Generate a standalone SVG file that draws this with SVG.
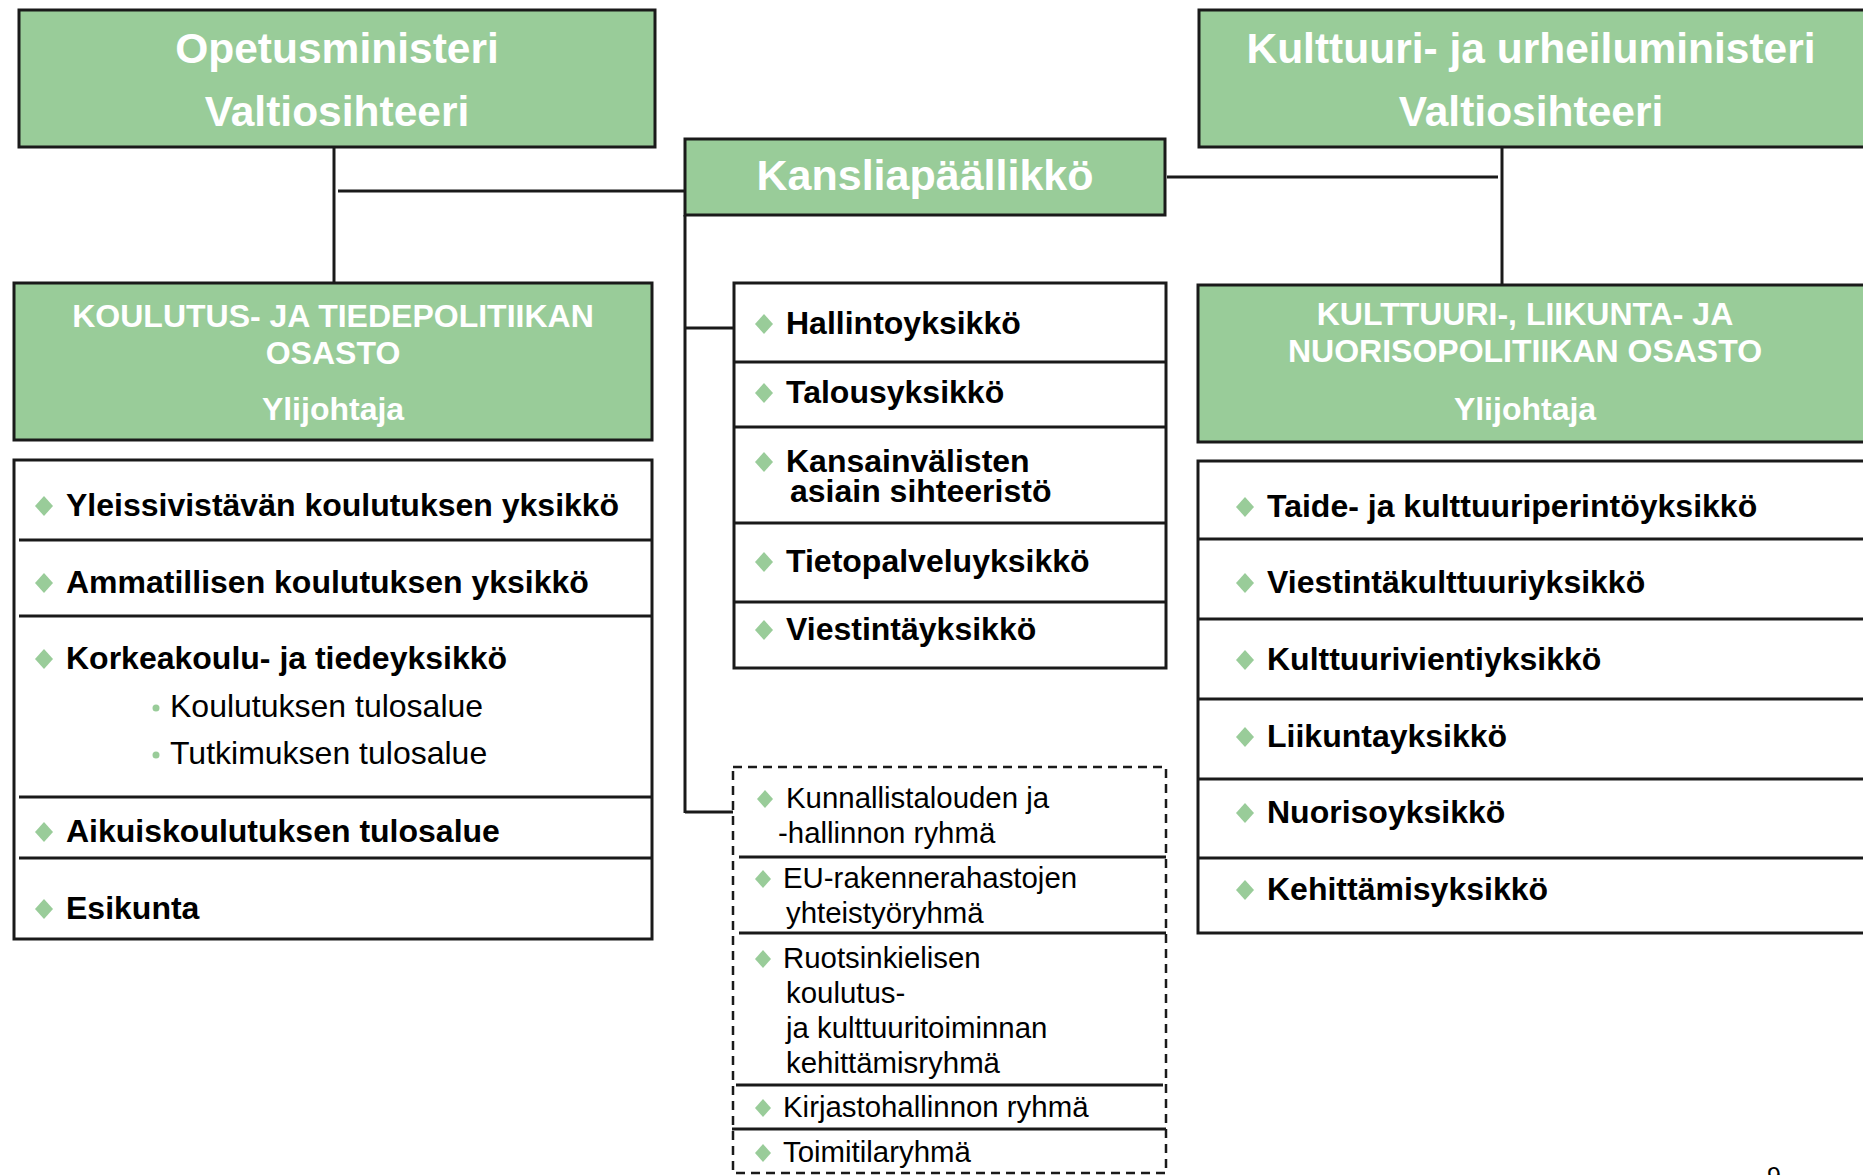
<svg xmlns="http://www.w3.org/2000/svg" xmlns:xlink="http://www.w3.org/1999/xlink" width="1863" height="1175" viewBox="0 0 1863 1175">
<style>
  text { font-family: "Liberation Sans", Arial, sans-serif; }
  .gbox { fill: #99CC99; stroke: #1a1a1a; stroke-width: 3; }
  .wbox { fill: #ffffff; stroke: #1a1a1a; stroke-width: 3; }
  .dbox { fill: none; stroke: #1a1a1a; stroke-width: 2.5; stroke-dasharray: 9 6; }
  .div { stroke: #1a1a1a; stroke-width: 3; fill: none; }
  .conn { stroke: #1a1a1a; stroke-width: 3; fill: none; }
  .top { fill: #ffffff; font-weight: bold; font-size: 42.5px; text-anchor: middle; }
  .kans { fill: #ffffff; font-weight: bold; font-size: 43px; text-anchor: middle; }
  .head { fill: #ffffff; font-weight: bold; font-size: 32px; text-anchor: middle; }
  .item { fill: #000000; font-weight: bold; font-size: 32px; }
  .sub { fill: #000000; font-size: 32px; }
  .grp { fill: #000000; font-size: 29.4px; }
  .bul { fill: #99CC99; }
</style>
<defs>
  <path id="dia" d="M0,-10 L9,0 L0,10 L-9,0 Z" fill="#99CC99"/>
  <path id="dias" d="M0,-9 L8,0 L0,9 L-8,0 Z" fill="#99CC99"/>
</defs>

<g id="connectors">
  <line class="conn" x1="334" y1="147" x2="334" y2="283"/>
  <line class="conn" x1="338" y1="191" x2="685" y2="191"/>
  <line class="conn" x1="1167" y1="177" x2="1498" y2="177"/>
  <line class="conn" x1="1502" y1="147" x2="1502" y2="285"/>
  <line class="conn" x1="685" y1="215" x2="685" y2="813"/>
  <line class="conn" x1="685" y1="328" x2="734" y2="328"/>
  <line class="conn" x1="685" y1="812" x2="733" y2="812"/>
</g>

<g id="opetusministeri">
  <rect class="gbox" x="19" y="10" width="636" height="137"/>
  <text class="top" x="337" y="63">Opetusministeri</text>
  <text class="top" x="337" y="126">Valtiosihteeri</text>
</g>

<g id="kulttuuriministeri">
  <rect class="gbox" x="1199" y="10" width="680" height="137"/>
  <text class="top" x="1531" y="63">Kulttuuri- ja urheiluministeri</text>
  <text class="top" x="1531" y="126">Valtiosihteeri</text>
</g>

<g id="kansliapaallikko">
  <rect class="gbox" x="685" y="139" width="480" height="76"/>
  <text class="kans" x="925" y="190">Kansliapäällikkö</text>
</g>

<g id="koulutusosasto">
  <rect class="gbox" x="14" y="283" width="638" height="157"/>
  <text class="head" x="333" y="327">KOULUTUS- JA TIEDEPOLITIIKAN</text>
  <text class="head" x="333" y="364">OSASTO</text>
  <text class="head" x="333" y="420">Ylijohtaja</text>
</g>

<g id="kulttuuriosasto">
  <rect class="gbox" x="1198" y="285" width="680" height="157"/>
  <text class="head" x="1525" y="325">KULTTUURI-, LIIKUNTA- JA</text>
  <text class="head" x="1525" y="362">NUORISOPOLITIIKAN OSASTO</text>
  <text class="head" x="1525" y="420">Ylijohtaja</text>
</g>

<g id="koulutusyksikot">
  <rect class="wbox" x="14" y="460" width="638" height="479"/>
  <line class="div" x1="19" y1="540" x2="652" y2="540"/>
  <line class="div" x1="19" y1="616" x2="652" y2="616"/>
  <line class="div" x1="19" y1="797" x2="652" y2="797"/>
  <line class="div" x1="19" y1="858" x2="652" y2="858"/>
  <use xlink:href="#dia" x="44" y="506"/>
  <text class="item" x="66" y="516">Yleissivistävän koulutuksen yksikkö</text>
  <use xlink:href="#dia" x="44" y="583"/>
  <text class="item" x="66" y="593">Ammatillisen koulutuksen yksikkö</text>
  <use xlink:href="#dia" x="44" y="659"/>
  <text class="item" x="66" y="669">Korkeakoulu- ja tiedeyksikkö</text>
  <circle class="bul" cx="156" cy="708" r="3.5"/>
  <text class="sub" x="170" y="717">Koulutuksen tulosalue</text>
  <circle class="bul" cx="156" cy="755" r="3.5"/>
  <text class="sub" x="170" y="764">Tutkimuksen tulosalue</text>
  <use xlink:href="#dia" x="44" y="832"/>
  <text class="item" x="66" y="842">Aikuiskoulutuksen tulosalue</text>
  <use xlink:href="#dia" x="44" y="909"/>
  <text class="item" x="66" y="919">Esikunta</text>
</g>

<g id="kansliayksikot">
  <rect class="wbox" x="734" y="283" width="432" height="385"/>
  <line class="div" x1="734" y1="362" x2="1166" y2="362"/>
  <line class="div" x1="734" y1="427" x2="1166" y2="427"/>
  <line class="div" x1="734" y1="523" x2="1166" y2="523"/>
  <line class="div" x1="734" y1="602" x2="1166" y2="602"/>
  <use xlink:href="#dia" x="764" y="324"/>
  <text class="item" x="786" y="334">Hallintoyksikkö</text>
  <use xlink:href="#dia" x="764" y="393"/>
  <text class="item" x="786" y="403">Talousyksikkö</text>
  <use xlink:href="#dia" x="764" y="462"/>
  <text class="item" x="786" y="472">Kansainvälisten</text>
  <text class="item" x="790" y="502">asiain sihteeristö</text>
  <use xlink:href="#dia" x="764" y="562"/>
  <text class="item" x="786" y="572">Tietopalveluyksikkö</text>
  <use xlink:href="#dia" x="764" y="630"/>
  <text class="item" x="786" y="640">Viestintäyksikkö</text>
</g>

<g id="ryhmat">
  <rect class="dbox" x="733" y="767" width="433" height="406"/>
  <line class="div" x1="739" y1="857" x2="1166" y2="857"/>
  <line class="div" x1="739" y1="933" x2="1166" y2="933"/>
  <line class="div" x1="736" y1="1085" x2="1163" y2="1085"/>
  <line class="div" x1="732" y1="1129" x2="1166" y2="1129"/>
  <use xlink:href="#dias" x="765" y="799"/>
  <text class="grp" x="786" y="808">Kunnallistalouden ja</text>
  <text class="grp" x="778" y="843">-hallinnon ryhmä</text>
  <use xlink:href="#dias" x="763" y="879"/>
  <text class="grp" x="783" y="888">EU-rakennerahastojen</text>
  <text class="grp" x="786" y="923">yhteistyöryhmä</text>
  <use xlink:href="#dias" x="763" y="959"/>
  <text class="grp" x="783" y="968">Ruotsinkielisen</text>
  <text class="grp" x="786" y="1003">koulutus-</text>
  <text class="grp" x="786" y="1038">ja kulttuuritoiminnan</text>
  <text class="grp" x="786" y="1073">kehittämisryhmä</text>
  <use xlink:href="#dias" x="763" y="1108"/>
  <text class="grp" x="783" y="1117">Kirjastohallinnon ryhmä</text>
  <use xlink:href="#dias" x="763" y="1153"/>
  <text class="grp" x="783" y="1162">Toimitilaryhmä</text>
</g>

<g id="kulttuuriyksikot">
  <rect class="wbox" x="1198" y="461" width="680" height="472"/>
  <line class="div" x1="1198" y1="539" x2="1878" y2="539"/>
  <line class="div" x1="1198" y1="619" x2="1878" y2="619"/>
  <line class="div" x1="1198" y1="699" x2="1878" y2="699"/>
  <line class="div" x1="1198" y1="779" x2="1878" y2="779"/>
  <line class="div" x1="1198" y1="858" x2="1878" y2="858"/>
  <use xlink:href="#dia" x="1245" y="507"/>
  <text class="item" x="1267" y="517">Taide- ja kulttuuriperintöyksikkö</text>
  <use xlink:href="#dia" x="1245" y="583"/>
  <text class="item" x="1267" y="593">Viestintäkulttuuriyksikkö</text>
  <use xlink:href="#dia" x="1245" y="660"/>
  <text class="item" x="1267" y="670">Kulttuurivientiyksikkö</text>
  <use xlink:href="#dia" x="1245" y="737"/>
  <text class="item" x="1267" y="747">Liikuntayksikkö</text>
  <use xlink:href="#dia" x="1245" y="813"/>
  <text class="item" x="1267" y="823">Nuorisoyksikkö</text>
  <use xlink:href="#dia" x="1245" y="890"/>
  <text class="item" x="1267" y="900">Kehittämisyksikkö</text>
</g>

<g id="sivunumero">
  <text x="1767" y="1185" style="font-size:25px; fill:#000000;">9</text>
</g>
</svg>
